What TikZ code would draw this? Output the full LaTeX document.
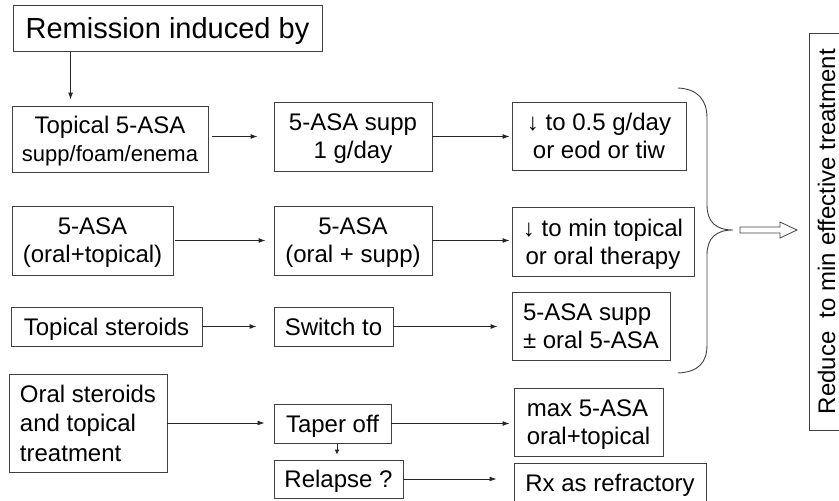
\documentclass[tikz,border=0pt]{standalone}
\usepackage{fontspec}
\setmainfont{Liberation Sans}
\usetikzlibrary{arrows.meta}

\begin{document}
\begin{tikzpicture}[x=1pt,y=-1pt,
  box/.style={draw=black!75, line width=0.9pt, inner sep=0pt, align=center, text depth=0pt,
    font=\fontsize{24}{28}\selectfont},
  arr/.style={draw=black!85, line width=0.9pt, -{Latex[length=7pt,width=5pt]}}]
  \clip (0,0) rectangle (839,501);

  % Starting box and the first column
  \node[box, minimum width=309pt, minimum height=46pt, font=\fontsize{29}{32}\selectfont] (remission) at (167.5,28) {Remission induced by};
  \node[box, minimum width=196pt, minimum height=66pt] (topasa) at (110,139) {Topical 5-ASA\\{\fontsize{22}{26}\selectfont supp/foam/enema}};
  \node[box, minimum width=161pt, minimum height=69pt] (oraltop) at (92.5,240.5) {5-ASA\\(oral+topical)};
  \node[box, minimum width=191pt, minimum height=39pt] (topster) at (106.5,326.5) {Topical steroids};
  \node[box, minimum width=158pt, minimum height=98pt, align=left, font=\fontsize{24}{29.5}\selectfont] (oralster) at (88,423) {Oral steroids\\and topical\\treatment};

  % Second column
  \node[box, minimum width=158pt, minimum height=69pt] (supp1) at (353,136.5) {5-ASA supp\\1 g/day};
  \node[box, minimum width=158pt, minimum height=69pt] (oralsupp) at (353,240.5) {5-ASA\\(oral + supp)};
  \node[box, minimum width=119pt, minimum height=39pt] (switch) at (333.5,326.5) {Switch to};
  \node[box, minimum width=117pt, minimum height=39pt] (taper) at (332.5,423.5) {Taper off};
  \node[box, minimum width=129pt, minimum height=38pt] (relapse) at (338.5,479) {Relapse ?};

  % Third column
  \node[box, minimum width=174pt, minimum height=68pt] (down1) at (599,136) {↓ to 0.5 g/day\\or eod or tiw};
  \node[box, minimum width=182pt, minimum height=69pt] (down2) at (603,241.5) {↓ to min topical\\or oral therapy};
  \node[box, minimum width=158pt, minimum height=68pt, align=left] (suppox) at (591,326) {5-ASA supp\\± oral 5-ASA};
  \node[box, minimum width=149pt, minimum height=68pt, align=left] (maxasa) at (588.5,422) {max 5-ASA\\oral+topical};
  \node[box, minimum width=192pt, minimum height=40pt] (rx) at (610,483) {Rx as refractory};

  % Final box on the right
  \node[box, rotate=90, minimum width=397pt, minimum height=41pt, text depth=6pt] (reduce) at (829.5,231.5) {Reduce~~to min effective treatment};

  % Draw the arrows
  \draw[arr] ([xshift=58pt]remission.south west) -- ([xshift=59pt,yshift=6pt]topasa.north west);
  \draw[arr, shorten <=4pt, shorten >=16pt] (topasa.east |- supp1.west) -- (supp1.west);
  \draw[arr, shorten >=2pt] (supp1.east) -- (supp1.east -| down1.west);
  \draw[arr, shorten <=2pt, shorten >=8pt] (oraltop.east) -- (oraltop.east -| oralsupp.west);
  \draw[arr, shorten >=2pt] (oralsupp.east) -- (oralsupp.east -| down2.west);
  \draw[arr, shorten >=17pt] (topster.east) -- (switch.west);
  \draw[arr, shorten >=14pt] (switch.east) -- (switch.east -| suppox.west);
  \draw[arr, shorten >=9pt] (oralster.east) -- (oralster.east -| taper.west);
  \draw[arr, shorten >=4pt] (taper.east) -- (taper.east -| maxasa.west);
  \draw[arr, -{Latex[length=5pt,width=5pt]}] ([xshift=4.5pt]taper.south) -- ([xshift=-1.5pt,yshift=5pt]relapse.north);
  \draw[arr, shorten >=17pt] (relapse.east) -- (relapse.east -| rx.west);

  % Draw the brace
  \draw[draw=black!75, line width=0.9pt] (678,88) .. controls (698,89) and (707,100) .. (707,118) -- (707,205)
    .. controls (707,222) and (716,230) .. (733,230) .. controls (716,230) and (707,238) .. (707,255)
    -- (707,345) .. controls (707,363) and (698,372) .. (678,373);

  % Hollow arrow to the last box
  \draw[draw=black!75, line width=0.8pt, fill=white] (740,227) -- (780,227) -- (780,222) -- (797,230)
    -- (780,238) -- (780,233) -- (740,233) -- cycle;

\end{tikzpicture}
\end{document}
